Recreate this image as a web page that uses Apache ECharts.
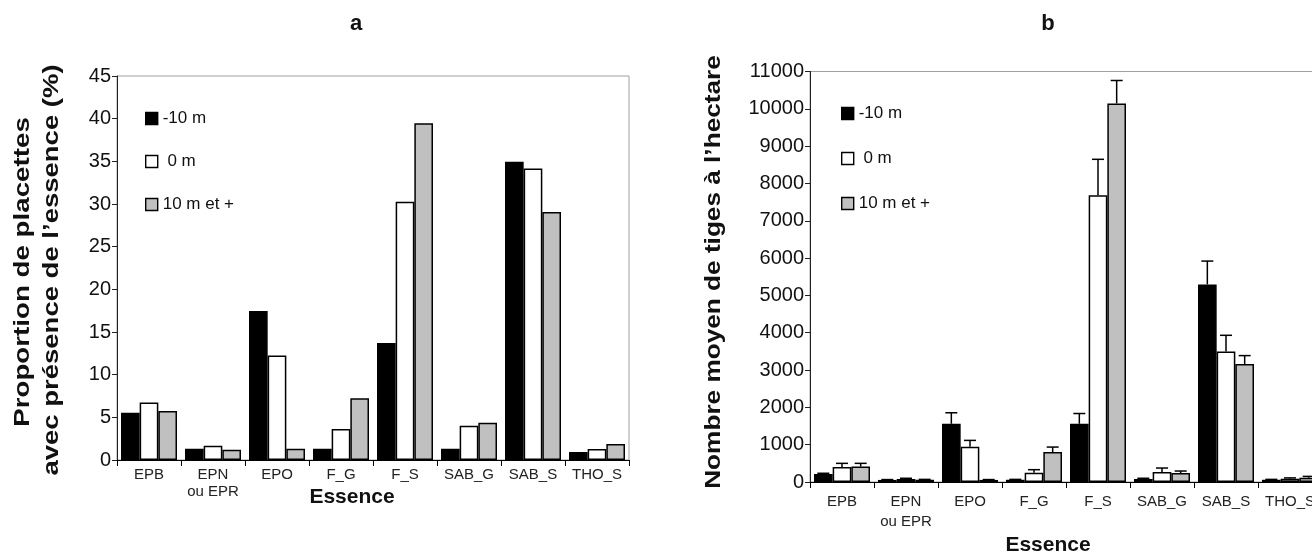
<!DOCTYPE html>
<html>
<head>
<meta charset="utf-8">
<script src="https://cdn.jsdelivr.net/npm/echarts@6/dist/echarts.min.js"></script>
<style>
html,body{margin:0;padding:0;background:#fff;}
#c{width:1312px;height:557px;}
</style>
</head>
<body>
<div id="c"></div>
<script>
// ---- data ----
var categories = ['EPB', 'EPN\nou EPR', 'EPO', 'F_G', 'F_S', 'SAB_G', 'SAB_S', 'THO_S'];
var seriesNames = ['-10 m', ' 0 m', '10 m et +'];
var ticksA = [0, 5, 10, 15, 20, 25, 30, 35, 40, 45];
var ticksB = [0, 1000, 2000, 3000, 4000, 5000, 6000, 7000, 8000, 9000, 10000, 11000];
// panel a : proportion de placettes (%)
var propMinus10 = [5.55, 1.33, 17.45, 1.33, 13.7, 1.33, 34.95, 0.94];
var prop0 = [6.75, 1.68, 12.25, 3.63, 30.25, 4.02, 34.15, 1.29];
var prop10 = [5.75, 1.21, 1.33, 7.23, 39.45, 4.37, 29.05, 1.88];
// panel b : nombre moyen de tiges à l'hectare
var tigesMinus10 = [214, 55, 1560, 60, 1560, 80, 5295, 60];
var tiges0 = [405, 80, 945, 250, 7684, 267, 3494, 90];
var tiges10 = [415, 60, 55, 802, 10144, 240, 3164, 115];
// upper error (added to mean)
var errMinus10 = [20, 10, 295, 10, 275, 20, 625, 10];
var err0 = [95, 20, 170, 80, 963, 107, 437, 20];
var err10 = [85, 10, 10, 134, 615, 54, 223, 35];

var FONT = 'Liberation Sans, Arial, sans-serif';
var fills = ['#000000', '#ffffff', '#c0c0c0'];
var CAT_GAP = 0.125;

var chart = echarts.init(document.getElementById('c'), null, {renderer: 'canvas'});

function xAxisCfg(gridIndex, margin, lh) {
  return {
    type: 'category', gridIndex: gridIndex, data: categories,
    axisLine: {show: true, lineStyle: {color: '#000', width: 1}},
    axisTick: {show: true, length: 6, inside: false, lineStyle: {color: '#000'}},
    axisLabel: {color: '#222', fontFamily: FONT, fontSize: 15, margin: margin, lineHeight: lh, interval: 0},
    splitLine: {show: false}
  };
}
function yAxisCfg(gridIndex, max, interval) {
  return {
    type: 'value', gridIndex: gridIndex, min: 0, max: max, interval: interval,
    axisLine: {show: true, lineStyle: {color: '#222', width: 1}},
    axisTick: {show: true, length: 5, inside: false, lineStyle: {color: '#222'}},
    axisLabel: {color: '#111', fontFamily: FONT, fontSize: 20, margin: 6,
                formatter: function (v) { return String(v); }},
    splitLine: {show: false}
  };
}
function barSeries(name, data, idx, axisIdx) {
  return {
    type: 'bar', name: name, data: data,
    xAxisIndex: axisIdx, yAxisIndex: axisIdx,
    barGap: '0%', barCategoryGap: (CAT_GAP * 100) + '%',
    itemStyle: {color: fills[idx], borderColor: '#000', borderWidth: 1.5},
    emphasis: {disabled: true},
    silent: true, z: 2
  };
}
function errSeries(vals, errs, idx) {
  return {
    type: 'custom', name: 'err' + idx,
    xAxisIndex: 1, yAxisIndex: 1, z: 3, silent: true,
    encode: {x: 0, y: 1},
    data: categories.map(function (c, i) { return [i, vals[i], errs[i]]; }),
    renderItem: function (params, api) {
      var cat = api.value(0), v = api.value(1), e = api.value(2);
      var base = api.coord([cat, v]);
      var top = api.coord([cat, v + e]);
      var band = api.size([1, 0])[0];
      var bw = band * (1 - CAT_GAP) / 3;
      var x = base[0] + (idx - 1) * bw;
      var cap = 6;
      return {type: 'group', children: [
        {type: 'line', shape: {x1: x, y1: base[1], x2: x, y2: top[1]}, style: {stroke: '#000', lineWidth: 1.5}},
        {type: 'line', shape: {x1: x - cap, y1: top[1], x2: x + cap, y2: top[1]}, style: {stroke: '#000', lineWidth: 1.5}}
      ]};
    }
  };
}
function legendCfg(left, top, gap) {
  return {
    data: seriesNames, orient: 'vertical', left: left, top: top,
    icon: 'rect', itemWidth: 12, itemHeight: 12, itemGap: gap,
    selectedMode: false,
    itemStyle: {borderColor: '#000', borderWidth: 1.4},
    textStyle: {fontFamily: FONT, fontSize: 17, color: '#111', lineHeight: 14, padding: [0, 0, 0, 0]},
    padding: 0
  };
}
function txt(x, y, s, size, bold, rot, sx) {
  return {
    type: 'text', x: x, y: y, rotation: rot || 0, scaleX: sx || 1,
    style: {text: s, fontFamily: FONT, fontSize: size, fontWeight: bold ? 'bold' : 'normal',
            fill: '#111', align: 'center', verticalAlign: 'middle'},
    silent: true
  };
}

var option = {
  animation: false,
  backgroundColor: '#ffffff',
  grid: [
    {left: 117, top: 76, width: 512, height: 384, show: true, borderColor: '#a0a0a0', borderWidth: 1, outerBoundsMode: 'none', containLabel: false},
    {left: 810, top: 71.5, width: 512, height: 410.5, show: true, borderColor: '#a0a0a0', borderWidth: 1, outerBoundsMode: 'none', containLabel: false}
  ],
  xAxis: [xAxisCfg(0, 6, 17), xAxisCfg(1, 10, 20)],
  yAxis: [yAxisCfg(0, ticksA[ticksA.length - 1], ticksA[1] - ticksA[0]),
          yAxisCfg(1, ticksB[ticksB.length - 1], ticksB[1] - ticksB[0])],
  legend: [legendCfg(145, 110, 26), legendCfg(841, 105, 28)],
  series: [
    barSeries(seriesNames[0], propMinus10, 0, 0),
    barSeries(seriesNames[1], prop0, 1, 0),
    barSeries(seriesNames[2], prop10, 2, 0),
    barSeries(seriesNames[0], tigesMinus10, 0, 1),
    barSeries(seriesNames[1], tiges0, 1, 1),
    barSeries(seriesNames[2], tiges10, 2, 1),
    errSeries(tigesMinus10, errMinus10, 0),
    errSeries(tiges0, err0, 1),
    errSeries(tiges10, err10, 2)
  ],
  graphic: [
    txt(356, 24, 'a', 22, true),
    txt(1048, 24, 'b', 22, true),
    txt(352, 497, 'Essence', 21, true),
    txt(1048, 545, 'Essence', 21, true),
    txt(23, 272, 'Proportion de placettes', 22, true, Math.PI / 2, 1.26),
    txt(52, 270, 'avec présence de l\u2019essence (%)', 22, true, Math.PI / 2, 1.25),
    txt(714, 272, 'Nombre moyen de tiges à l\u2019hectare', 22, true, Math.PI / 2, 1.19)
  ]
};
chart.setOption(option);
</script>
</body>
</html>
